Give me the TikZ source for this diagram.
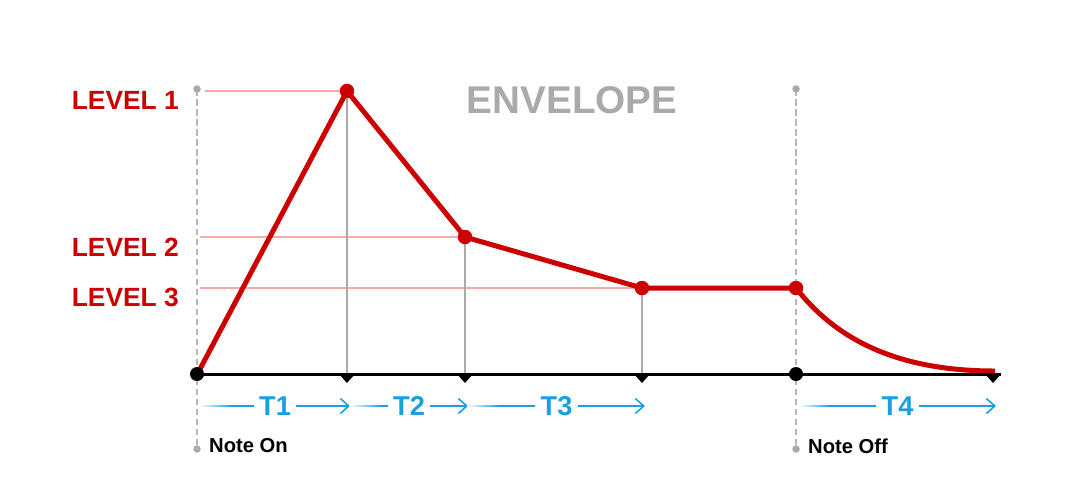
\documentclass[tikz,border=0pt]{standalone}
\usepackage{fontspec}
\setmainfont{Liberation Sans}
\usetikzlibrary{arrows.meta,positioning,calc}
\definecolor{envred}{HTML}{CC0000}
\definecolor{envblue}{HTML}{1A9FE0}
\definecolor{envgray}{HTML}{AAAAAA}
\definecolor{envpink}{HTML}{F8AAAA}

\begin{document}
\begin{tikzpicture}[x=0.02cm,y=-0.02cm,font=\bfseries,
    lvl/.style={text=envred,anchor=east,font=\fontsize{15}{15}\selectfont\bfseries},
    tlab/.style={text=envblue,fill=white,inner sep=3pt,font=\fontsize{15.5}{15}\selectfont\bfseries},
    tspan/.style={draw=envblue,line width=0.9pt,-{Straight Barb[length=0.17cm,width=0.3cm]}},
    knot/.style={circle,fill=envred,inner sep=0pt,minimum size=0.29cm},
    bdot/.style={circle,fill=black,inner sep=0pt,minimum size=0.28cm},
    gdot/.style={circle,fill=envgray,inner sep=0pt,minimum size=0.15cm},
    guide/.style={envgray!85,line width=0.04cm,dash pattern=on 0.13cm off 0.07cm},
    note/.style={anchor=west,font=\fontsize{11.5}{12}\selectfont\bfseries}]
    \useasboundingbox (0,0) rectangle (1070,495);
    % time axis
    \coordinate (on) at (197,374);
    \coordinate (off) at (796,374);
    \coordinate (t1) at (347,374);
    \coordinate (t2) at (465,374);
    \coordinate (t3) at (642,374);
    \coordinate (t4) at (993,374);
    \coordinate (axend) at (1001,374);
    % envelope points
    \coordinate (l1) at (347,91);
    \coordinate (l2) at (465,237);
    \coordinate (l3) at (642,288);
    \coordinate (sus) at (796,288);
    \coordinate (rel) at (995,371);
    \coordinate (ontop) at (197,89);
    \coordinate (onbot) at (197,449);
    \coordinate (offtop) at (796,89);
    \coordinate (offbot) at (796,449);
    \draw[guide] (ontop) -- (onbot);
    \draw[guide] (offtop) -- (offbot);
    \node[gdot] (g1) at (ontop) {};
    \node[gdot] (g2) at (onbot) {};
    \node[gdot] (g3) at (offtop) {};
    \node[gdot] (g4) at (offbot) {};
    % level guides
    \draw[envpink,line width=0.03cm] ([xshift=0.16cm]on |- l1) -- (l1);
    \draw[envpink,line width=0.03cm] ([xshift=0.06cm]on |- l2) -- (l2);
    \draw[envpink,line width=0.03cm] ([xshift=0.06cm]on |- l3) -- (l3);
    \foreach \p/\q in {l1/t1,l2/t2,l3/t3}
      \draw[envgray,line width=0.04cm] (\p) -- (\q);
    \node[lvl] (lab1) at (185,100) {LEVEL 1};
    \node[lvl] (lab2) at (185,247) {LEVEL 2};
    \node[lvl] (lab3) at (185,297) {LEVEL 3};
    \node[text=envgray,font=\fontsize{22}{22}\selectfont\bfseries] (title) at (572,100) {ENVELOPE};
    % envelope
    \draw[envred,line width=0.1cm,line join=round] ($(on)+(3,-5)$) -- (l1) -- (l2) -- (l3) -- (sus)
      .. controls (835,338) and (895,371) .. (rel);
    \foreach \p in {l1,l2,l3,sus}
      \node[knot] (k-\p) at (\p) {};
    % axis
    \draw[line width=0.06cm] (on) -- (axend);
    \foreach \t in {t1,t2,t3,t4}
      \fill (\t) ++(-8,0) -- ++(16,0) -- ++(-8,9) -- cycle;
    \node[bdot] (b-on) at (on) {};
    \node[bdot] (b-off) at (off) {};
    % time spans
    \foreach \a/\b/\t in {on/t1/T1,t1/t2/T2,t2/t3/T3,off/t4/T4} {
      \draw[tspan] ($(\a)+(3,32)$) -- node[tlab] (lab-\t) {\t} ($(\b)+(3,32)$);
      \shade[left color=white,right color=envblue] ($(\a)+(2,31.1)$) rectangle ($(\a)+(34,32.9)$);
    }
    \node[note] (non) at (203,446) {Note On};
    \node[note] (noff) at (802,446) {Note Off};
  \end{tikzpicture}
\end{document}
